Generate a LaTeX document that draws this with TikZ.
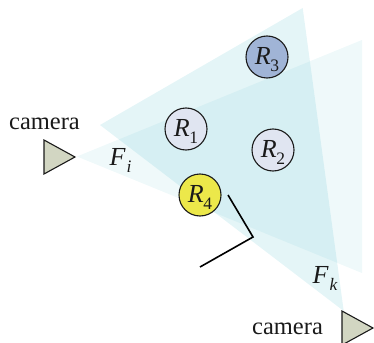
\documentclass[tikz,border=0pt]{standalone}
\usepackage{fontspec}
\setmainfont{Liberation Serif}
\definecolor{fov}{HTML}{60C2CE}
\definecolor{camfill}{HTML}{D2D6C2}
\definecolor{regblue}{HTML}{A0B4D6}
\definecolor{regpale}{HTML}{E0E5F1}
\definecolor{regyellow}{HTML}{ECE84A}
\definecolor{inkc}{HTML}{1A1A1A}
\newcommand{\sublab}[2]{\textit{#1}\kern-0.5pt\raisebox{-0.28em}{\fontsize{17.5}{17.5}\selectfont #2}}
\newcommand{\subital}[2]{\textit{#1}\kern1pt\raisebox{-0.3em}{\fontsize{17.5}{17.5}\selectfont\itshape #2}}
\tikzset{
  region/.style={circle,draw=inkc,line width=1.1pt,minimum size=42pt,inner sep=0pt,font=\fontsize{26}{26}\selectfont,text=inkc,text depth=2pt,xshift=0pt},
  cam/.style={draw=inkc,line width=1.1pt,fill=camfill,line join=miter},
  lbl/.style={inner sep=0pt,text=inkc,font=\fontsize{24.5}{24.5}\selectfont},
  fk/.style={inner sep=0pt,text=inkc,font=\fontsize{26}{26}\selectfont},
  wallline/.style={draw=black,line width=1.6pt}
}
\begin{document}
\begin{tikzpicture}[x=1pt,y=-1pt]
\useasboundingbox (0,0) rectangle (374,342);
\fill[fov,opacity=.17] (343.7,311) -- (302.7,8) -- (100,125) -- cycle;
\fill[fov,opacity=.10] (77,156.5) -- (362,40) -- (362,273) -- cycle;
\begin{scope}
\clip (0,0) rectangle (374,342);
\draw[cam] (44,140) -- (75,157) -- (44,174) -- cycle;
\draw[cam] (342,311) -- (373,328) -- (342,345) -- cycle;
\end{scope}
\node[region,fill=regpale] (r1) at (186,129) {\sublab{R}{1}};
\node[region,fill=regpale] (r2) at (273,150) {\sublab{R}{2}};
\node[region,fill=regblue] (r3) at (267,57) {\sublab{R}{3}};
\node[region,fill=regyellow] (r4) at (200,195) {\sublab{R}{4}};
\coordinate (w1) at (228,195);
\coordinate (w2) at (253,237);
\coordinate (w3) at (200,267);
\draw[wallline] (w1) -- (w2) -- (w3);
\node[lbl,anchor=base] (c1) at (44.5,129) {camera};
\node[lbl,anchor=base] (c2) at (287.5,334) {camera};
\node[fk,anchor=base] (fi) at (120.5,165) {\subital{F}{i}};
\node[fk,anchor=base] (fk) at (325,283) {\subital{F}{k}};
\end{tikzpicture}
\end{document}
